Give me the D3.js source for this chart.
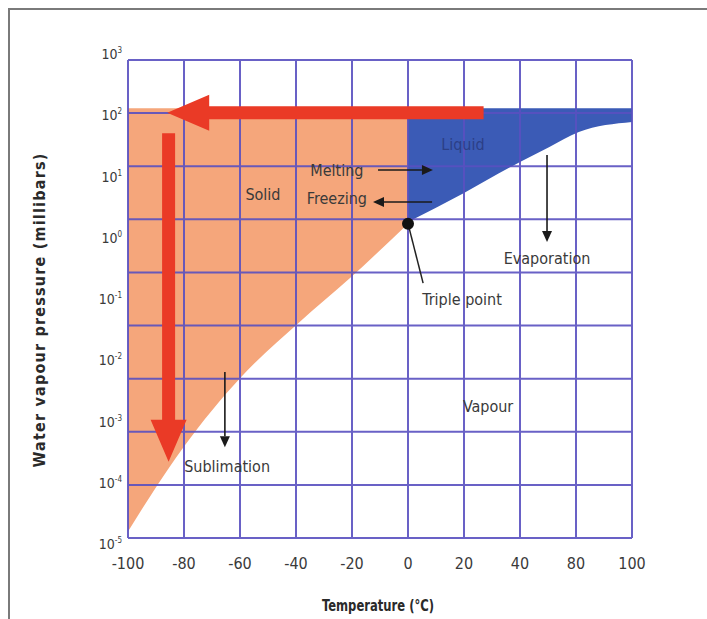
<!DOCTYPE html>
<html>
<head>
<meta charset="utf-8">
<script src="https://cdn.jsdelivr.net/npm/d3@7"></script>
<style>
  body { margin: 0; background: #fff; }
  text { font-family: "Liberation Sans Narrow", "DejaVu Sans Condensed", "Roboto", sans-serif; }
</style>
</head>
<body>
<svg id="chart" width="707" height="619"></svg>
<script>
// Axis labelling (the temperature axis jumps from 40 to 80 in its last steps)
const xTickLabels = [-100, -80, -60, -40, -20, 0, 20, 40, 80, 100];
const yTickExponents = [3, 2, 1, 0, -1, -2, -3, -4, -5];
const gridRows = d3.range(10);

// Solid / vapour boundary (sublimation curve): temperature °C, pressure mbar
const sublimationT = [-100, -92, -80, -60, -39, -20.7, 0];
const sublimationP = [1.6e-5, 6.1e-5, 3.9e-4, 5.1e-3, 0.041, 0.22, 1.7];

// Liquid / vapour boundary (evaporation curve)
const evaporationT = [0, 20, 40, 61, 81, 100];
const evaporationP = [1.8, 5.4, 17.3, 30.3, 53.3, 77.6];

// Upper pressure limit of the shaded phases, and the triple point
const phaseTopP = 130;
const triplePoint = { t: 0, p: 1.7 };

// Process arrows, from / to as [temperature, pressure]
const redArrows = [
  { name: "cooling", from: [27, 110], to: [-86, 110] },
  { name: "pumping", from: [-85.5, 51], to: [-85.5, 2.2e-4] }
];
const processArrows = [
  { name: "melting",     from: [-10.7, 12.8],  to: [8.9, 12.8] },
  { name: "freezing",    from: [8.6, 3.84],    to: [-12.5, 3.84] },
  { name: "evaporation", from: [59.3, 22.4],   to: [59.3, 0.85] },
  { name: "sublimation", from: [-65.4, 6.4e-3], to: [-65.4, 3.8e-4] }
];
const phaseLabels = [
  { text: "Liquid",       t: 19.6,  p: 33,      color: "#2c3f86" },
  { text: "Solid",        t: -51.8, p: 5.0,     color: "#3a3a3a" },
  { text: "Melting",      t: -25.4, p: 12.3,    color: "#3a3a3a" },
  { text: "Freezing",     t: -25.4, p: 4.3,     color: "#3a3a3a" },
  { text: "Evaporation",  t: 59.3,  p: 0.467,   color: "#3a3a3a" },
  { text: "Triple point", t: 19.3,  p: 0.0964,  color: "#3a3a3a" },
  { text: "Vapour",       t: 28.6,  p: 1.79e-3, color: "#3a3a3a" },
  { text: "Sublimation",  t: -64.6, p: 1.81e-4, color: "#3a3a3a" }
];
const triplePointLeader = { from: [0, 1.7], to: [5.4, 0.182] };

const svg = d3.select("#chart");

// Temperature scale: even spacing per printed tick
const x = d3.scaleLinear()
  .domain([-100, 40, 80, 100])
  .range([128, 520, 576, 632]);
// Pressure scale (log)
const y = d3.scaleLog().domain([1e-5, 1e3]).range([544, 54]);
// Horizontal rules of the grid
const gy = d3.scaleLinear().domain([0, 9]).range([60, 538]);

const plotL = 128, plotR = 632, plotT = gy(0), plotB = gy(9);

// outer frame
svg.append("rect")
  .attr("x", 9).attr("y", 9).attr("width", 720).attr("height", 640)
  .attr("fill", "none").attr("stroke", "#7a7a7a").attr("stroke-width", 2);

const solidData = sublimationT.map((t, i) => ({ t, p: sublimationP[i] }));
const liquidData = evaporationT.map((t, i) => ({ t, p: evaporationP[i] }));

const area = d3.area()
  .x(d => x(d.t))
  .y0(d => y(d.p))
  .y1(() => y(phaseTopP))
  .curve(d3.curveMonotoneX);

svg.append("path").attr("d", area(solidData)).attr("fill", "#f5a67b");
svg.append("path").attr("d", area(liquidData)).attr("fill", "#3b5bb6");

// grid
const gridColor = "#5950c0";
const grid = svg.append("g").attr("stroke", gridColor).attr("stroke-width", 2).attr("opacity", 0.9);
grid.selectAll("line.v").data(xTickLabels).join("line")
  .attr("class", "v")
  .attr("x1", d => x(d)).attr("x2", d => x(d))
  .attr("y1", plotT).attr("y2", plotB);
grid.selectAll("line.h").data(gridRows).join("line")
  .attr("class", "h")
  .attr("x1", plotL).attr("x2", plotR)
  .attr("y1", d => gy(d)).attr("y2", d => gy(d));

// x tick labels
svg.append("g").selectAll("text").data(xTickLabels).join("text")
  .attr("x", d => x(d)).attr("y", 569)
  .attr("text-anchor", "middle")
  .attr("font-size", 16).attr("fill", "#3a3a3a")
  .text(d => d);

// y tick labels: 10 with superscript exponent
const yt = svg.append("g").selectAll("text").data(yTickExponents).join("text")
  .attr("x", 122).attr("y", d => y(Math.pow(10, d)) + 5)
  .attr("text-anchor", "end")
  .attr("font-size", 14).attr("fill", "#3a3a3a");
yt.append("tspan").text("10");
yt.append("tspan").attr("font-size", 8).attr("dy", -6).text(d => d);

// axis titles
svg.append("text")
  .attr("x", 322).attr("y", 611)
  .attr("font-size", 15).attr("font-weight", "bold")
  .attr("textLength", 112).attr("lengthAdjust", "spacingAndGlyphs")
  .attr("fill", "#2a2a2a")
  .text("Temperature (°C)");
svg.append("text")
  .attr("transform", "translate(45,310) rotate(-90)")
  .attr("text-anchor", "middle").attr("font-size", 16).attr("font-weight", "bold")
  .attr("letter-spacing", 1.2)
  .attr("fill", "#2a2a2a")
  .text("Water vapour pressure (millibars)");

// triple point leader and dot
svg.append("line")
  .attr("x1", x(triplePointLeader.from[0])).attr("y1", y(triplePointLeader.from[1]))
  .attr("x2", x(triplePointLeader.to[0])).attr("y2", y(triplePointLeader.to[1]))
  .attr("stroke", "#222").attr("stroke-width", 1.5);
svg.append("circle")
  .attr("cx", x(triplePoint.t)).attr("cy", y(triplePoint.p)).attr("r", 6)
  .attr("fill", "#111");

// thin black process arrows
function thinArrow(a) {
  const x1 = x(a.from[0]), y1 = y(a.from[1]), x2 = x(a.to[0]), y2 = y(a.to[1]);
  const ang = Math.atan2(y2 - y1, x2 - x1), L = 11, W = 5;
  const bx = x2 - L * Math.cos(ang), by = y2 - L * Math.sin(ang);
  const g = svg.append("g");
  g.append("line").attr("x1", x1).attr("y1", y1).attr("x2", bx).attr("y2", by)
    .attr("stroke", "#1a1a1a").attr("stroke-width", 1.6);
  g.append("path")
    .attr("d", `M${x2},${y2}L${bx - W * Math.sin(ang)},${by + W * Math.cos(ang)}L${bx + W * Math.sin(ang)},${by - W * Math.cos(ang)}Z`)
    .attr("fill", "#1a1a1a");
}
processArrows.forEach(thinArrow);

// labels
svg.append("g").selectAll("text").data(phaseLabels).join("text")
  .attr("x", d => x(d.t)).attr("y", d => y(d.p) + 5.5)
  .attr("text-anchor", "middle").attr("font-size", 16)
  .attr("fill", d => d.color)
  .text(d => d.text);

// thick red arrows
function redArrow(a) {
  const x1 = x(a.from[0]), y1 = y(a.from[1]), x2 = x(a.to[0]), y2 = y(a.to[1]);
  const ang = Math.atan2(y2 - y1, x2 - x1), L = 42, W = 18, S = 6.5;
  const bx = x2 - L * Math.cos(ang), by = y2 - L * Math.sin(ang);
  const nx = -Math.sin(ang), ny = Math.cos(ang);
  const pts = [
    [x1 + S * nx, y1 + S * ny], [bx + S * nx, by + S * ny], [bx + W * nx, by + W * ny],
    [x2, y2],
    [bx - W * nx, by - W * ny], [bx - S * nx, by - S * ny], [x1 - S * nx, y1 - S * ny]
  ];
  svg.append("path").attr("d", "M" + pts.join("L") + "Z").attr("fill", "#ea3a26");
}
redArrows.forEach(redArrow);
</script>
</body>
</html>
